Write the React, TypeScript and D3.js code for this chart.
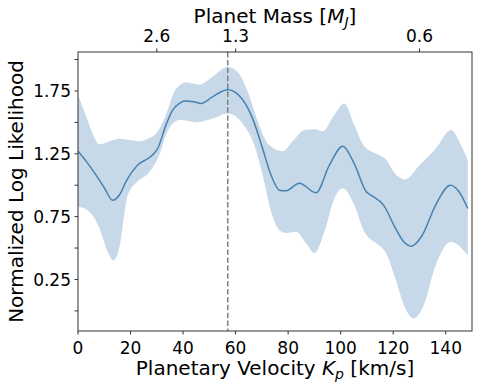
import React from "react";
import * as d3 from "d3";

// mean normalized log likelihood vs Kp
const meanKp = [0, 3.5, 6.9, 10, 13.2, 16, 18.3, 22.7, 27.8, 30.3, 33.5, 36.1, 38.6, 40.5, 44, 46.8, 51.3, 57, 62.7, 66.5, 70.3, 73.5, 76.7, 79, 84.3, 90.6, 95.7, 100.8, 105.2, 109.7, 112, 116.4, 120.8, 124, 126.9, 131, 136.1, 141.8, 145, 148.4];
const meanVal = [1.27, 1.18, 1.08, 0.98, 0.88, 0.93, 1.03, 1.16, 1.23, 1.29, 1.48, 1.6, 1.65, 1.67, 1.665, 1.65, 1.705, 1.76, 1.68, 1.53, 1.29, 1.08, 0.96, 0.955, 1.015, 0.94, 1.16, 1.31, 1.17, 0.95, 0.915, 0.84, 0.66, 0.55, 0.515, 0.6, 0.84, 1.0, 0.95, 0.815];

// upper edge of the uncertainty band
const upperKp = [0, 2, 4.3, 6, 8.1, 11.9, 15.7, 19.5, 23.3, 26.5, 29.7, 33.5, 36.7, 38.9, 41.1, 46.2, 51.3, 57, 60.8, 64.6, 68.4, 71.6, 74, 77.9, 81.7, 86.2, 90, 93.2, 97.6, 101.4, 105.2, 109, 114.7, 117, 120.8, 124.6, 129.7, 136.1, 142, 145.6, 148.4];
const upperVal = [1.72, 1.61, 1.48, 1.39, 1.325, 1.35, 1.37, 1.36, 1.35, 1.37, 1.41, 1.56, 1.745, 1.8, 1.82, 1.8, 1.865, 1.94, 1.9, 1.745, 1.51, 1.35, 1.3, 1.27, 1.35, 1.44, 1.445, 1.43, 1.56, 1.65, 1.48, 1.31, 1.24, 1.21, 1.09, 1.046, 1.15, 1.29, 1.44, 1.33, 1.2];

// lower edge of the uncertainty band
const lowerKp = [0, 4.3, 8.1, 11.3, 13.4, 15.7, 17.5, 18.9, 22.7, 26.5, 30.3, 34.1, 37.3, 39, 44.9, 51.3, 57, 62.7, 67.1, 70.3, 73.5, 76.7, 79.2, 83, 86.8, 90, 93.8, 97.6, 100.8, 105.2, 109, 114.7, 117, 120.8, 124.6, 127.8, 131.6, 136.1, 142, 148.4];
const lowerVal = [0.83, 0.79, 0.66, 0.47, 0.4, 0.5, 0.75, 0.92, 1.03, 1.09, 1.21, 1.43, 1.51, 1.52, 1.5, 1.53, 1.57, 1.49, 1.32, 1.08, 0.79, 0.64, 0.62, 0.63, 0.54, 0.46, 0.63, 0.895, 0.975, 0.84, 0.63, 0.52, 0.47, 0.26, 0.02, -0.06, 0.045, 0.36, 0.55, 0.44];

const bestKp = 57;
const xTicks = [0, 20, 40, 60, 80, 100, 120, 140];
const yTicks = [0, 0.25, 0.5, 0.75, 1.0, 1.25, 1.5, 1.75, 2.0];
const yLabelled = [0.25, 0.75, 1.25, 1.75];
const massTicks = [2.6, 1.3, 0.6];
const massToKp = (m: number) => 78 / m;

const W = 483;
const H = 391;
const FONT = "DejaVu Sans, sans-serif";

export default function App() {
  const x = d3.scaleLinear().domain([0, 150]).range([78, 472]);
  const y = d3.scaleLinear().domain([-0.16, 2.06]).range([331, 52]);

  const lineGen = d3
    .line<[number, number]>()
    .x((d) => x(d[0]))
    .y((d) => y(d[1]))
    .curve(d3.curveMonotoneX);

  const meanPts = meanKp.map((k, i) => [k, meanVal[i]] as [number, number]);
  const upPts = upperKp.map((k, i) => [k, upperVal[i]] as [number, number]);
  const loPts = lowerKp.map((k, i) => [k, lowerVal[i]] as [number, number]);

  // band = upper edge forward, then lower edge traced back
  const loPath = d3
    .line<[number, number]>()
    .x((d) => -x(d[0]))
    .y((d) => y(d[1]))
    .curve(d3.curveMonotoneX);
  // monotoneX needs increasing x, so trace lower edge on mirrored x and flip back
  const loReversed = loPts.slice().reverse();
  const loD = (loPath(loReversed) || "").replace(/-?\d+(\.\d+)?(e-?\d+)?,-?\d+(\.\d+)?(e-?\d+)?/g, (pair) => {
    const [a, b] = pair.split(",");
    return `${-parseFloat(a)},${b}`;
  });
  const bandPath = (lineGen(upPts) || "") + "L" + loD.slice(1) + "Z";

  const [x0, x1] = x.range();
  const [y0, y1] = y.range();

  return (
    <svg width={W} height={H} style={{ position: "absolute", left: 0, top: 0 }}>
      <rect width={W} height={H} fill="white" />

      <path d={bandPath} fill="#4682b4" fillOpacity={0.3} stroke="none" />
      <path d={lineGen(meanPts) || ""} fill="none" stroke="#4682b4" strokeWidth={1.5} />

      <line
        x1={x(bestKp)}
        x2={x(bestKp)}
        y1={y1}
        y2={y0}
        stroke="#808080"
        strokeWidth={1.5}
        strokeDasharray="5.5,2.4"
      />

      {/* frame */}
      <rect x={x0} y={y1} width={x1 - x0} height={y0 - y1} fill="none" stroke="#333" strokeWidth={1} />

      {/* bottom axis */}
      {xTicks.map((t) => (
        <g key={"x" + t}>
          <line x1={x(t)} x2={x(t)} y1={y0} y2={y0 + 3.5} stroke="#333" />
          <text x={x(t)} y={354} fontSize={17} fontFamily={FONT} textAnchor="middle">
            {t}
          </text>
        </g>
      ))}

      {/* left axis */}
      {yTicks.map((t) => (
        <g key={"y" + t}>
          <line x1={x0 - 3.5} x2={x0} y1={y(t)} y2={y(t)} stroke="#333" />
          {yLabelled.includes(t) && (
            <text x={71} y={y(t)} dy="0.36em" fontSize={17} fontFamily={FONT} textAnchor="end">
              {t.toFixed(2)}
            </text>
          )}
        </g>
      ))}

      {/* top axis: planet mass */}
      {massTicks.map((m) => (
        <g key={"m" + m}>
          <line x1={x(massToKp(m))} x2={x(massToKp(m))} y1={y1} y2={y1 - 3.5} stroke="#333" />
          <text x={x(massToKp(m))} y={42} fontSize={17} fontFamily={FONT} textAnchor="middle">
            {m}
          </text>
        </g>
      ))}

      <text x={(x0 + x1) / 2} y={23} fontSize={20} fontFamily={FONT} textAnchor="middle">
        Planet Mass [<tspan fontStyle="italic">M</tspan>
        <tspan fontStyle="italic" fontSize={14} dy={4}>J</tspan>
        <tspan dy={-4}>]</tspan>
      </text>

      <text x={(x0 + x1) / 2} y={375} fontSize={20} fontFamily={FONT} textAnchor="middle">
        Planetary Velocity <tspan fontStyle="italic">K</tspan>
        <tspan fontStyle="italic" fontSize={14} dy={4}>p</tspan>
        <tspan dy={-4}> [km/s]</tspan>
      </text>

      <text
        transform={`translate(23,${(y0 + y1) / 2}) rotate(-90)`}
        fontSize={20}
        fontFamily={FONT}
        textAnchor="middle"
      >
        Normalized Log Likelihood
      </text>
    </svg>
  );
}
